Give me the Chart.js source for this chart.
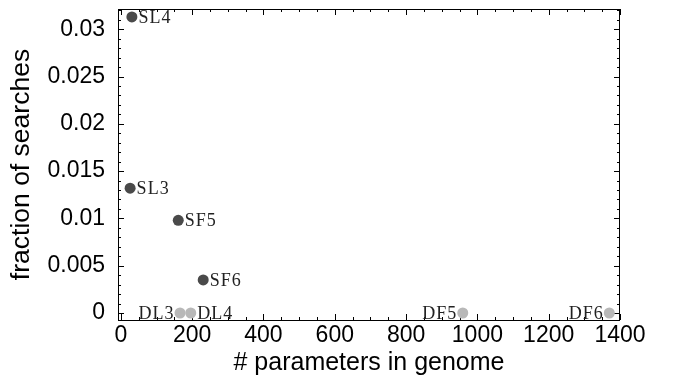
<!DOCTYPE html>
<html>
<head>
<meta charset="utf-8">
<script src="https://cdn.jsdelivr.net/npm/chart.js@4.4.1/dist/chart.umd.min.js"></script>
<style>
  html, body { margin: 0; padding: 0; background: #fff; }
  #wrap { width: 675px; height: 379px; position: relative; }
</style>
</head>
<body>
<div id="wrap"><canvas id="chart"></canvas></div>
<script>
// Single-population searches (dark) and double-population searches (light)
const singleNames = ['SL3', 'SL4', 'SF5', 'SF6'];
const singleParams = [26, 31, 161, 231];
const singleFraction = [0.0132, 0.0313, 0.0098, 0.0035];

const doubleNames = ['DL3', 'DL4', 'DF5', 'DF6'];
const doubleParams = [166, 196, 959, 1370];
const doubleFraction = [0, 0, 0, 0];

const xTicks = [0, 200, 400, 600, 800, 1000, 1200, 1400];
const xTickLabels = ['0', '200', '400', '600', '800', '1000', '1200', '1400'];
const yTicks = [0, 0.005, 0.01, 0.015, 0.02, 0.025, 0.03];
const yTickLabels = ['0', '0.005', '0.01', '0.015', '0.02', '0.025', '0.03'];

// labels that sit on the left of their point
const leftLabeled = ['DL3', 'DF5', 'DF6'];

const toPoints = (xs, ys) => xs.map((v, i) => ({ x: v, y: ys[i] }));

// Mathematica-style frame with inward major/minor ticks on all four sides
const frameTicks = {
  id: 'frameTicks',
  beforeDatasetsDraw(chart) {
    const { ctx, chartArea: a, scales: { x, y } } = chart;
    ctx.save();
    ctx.strokeStyle = '#000';
    ctx.lineWidth = 1;
    ctx.beginPath();
    for (let v = 0; v <= 1400; v += 50) {
      const px = Math.round(x.getPixelForValue(v)) + 0.5;
      const len = v % 200 === 0 ? 6 : 3;
      ctx.moveTo(px, a.bottom); ctx.lineTo(px, a.bottom - len);
      ctx.moveTo(px, a.top); ctx.lineTo(px, a.top + len);
    }
    for (let i = 0; i <= 32; i++) {
      const py = Math.round(y.getPixelForValue(i / 1000)) + 0.5;
      const len = i % 5 === 0 ? 6 : 3;
      ctx.moveTo(a.left, py); ctx.lineTo(a.left + len, py);
      ctx.moveTo(a.right, py); ctx.lineTo(a.right - len, py);
    }
    ctx.stroke();
    ctx.strokeRect(Math.round(a.left) + 0.5, Math.round(a.top) + 0.5,
      Math.round(a.right - a.left) - 1, Math.round(a.bottom - a.top));
    ctx.restore();
  }
};

// Point name labels in a typewriter-ish serif
const pointNames = {
  id: 'pointNames',
  afterDatasetsDraw(chart) {
    const { ctx } = chart;
    ctx.save();
    ctx.font = '18px "Liberation Serif", "Times New Roman", serif';
    ctx.letterSpacing = '1px';
    ctx.fillStyle = '#222';
    ctx.textBaseline = 'alphabetic';
    chart.data.datasets.forEach((ds, di) => {
      const meta = chart.getDatasetMeta(di);
      meta.data.forEach((pt, j) => {
        const name = ds.names[j];
        const r = ds.pointRadius;
        if (leftLabeled.includes(name)) {
          ctx.textAlign = 'right';
          ctx.fillText(name, pt.x - r, pt.y + 6);
        } else {
          ctx.textAlign = 'left';
          ctx.fillText(name, pt.x + r + 1, pt.y + 6);
        }
      });
    });
    ctx.restore();
  }
};

const sansFont = '"Liberation Sans", Arial, Helvetica, sans-serif';

new Chart(document.getElementById('chart'), {
  type: 'scatter',
  data: {
    datasets: [
      {
        names: singleNames,
        data: toPoints(singleParams, singleFraction),
        backgroundColor: '#4a4a4a',
        borderWidth: 0,
        pointRadius: 5.5,
        pointHoverRadius: 5.5,
        clip: false
      },
      {
        names: doubleNames,
        data: toPoints(doubleParams, doubleFraction),
        backgroundColor: '#b8b8b8',
        borderWidth: 0,
        pointRadius: 5.5,
        pointHoverRadius: 5.5,
        clip: false
      }
    ]
  },
  options: {
    responsive: true,
    maintainAspectRatio: false,
    animation: false,
    layout: { padding: { top: 9, right: 55, left: 0, bottom: 0 } },
    plugins: {
      legend: { display: false },
      tooltip: { enabled: false }
    },
    scales: {
      x: {
        type: 'linear',
        min: -8,
        max: 1400,
        grid: { display: false, drawTicks: false },
        border: { display: false },
        afterBuildTicks: (scale) => { scale.ticks = xTicks.map(v => ({ value: v })); },
        afterFit: (scale) => {
          scale.height = 59;
          scale.paddingLeft = 0;
          scale.paddingRight = 0;
        },
        ticks: {
          autoSkip: false,
          maxRotation: 0,
          padding: 2,
          color: '#000',
          font: { family: sansFont, size: 23 },
          callback: (value, index) => xTickLabels[index]
        },
        title: {
          display: true,
          text: '# parameters in genome',
          color: '#000',
          font: { family: sansFont, size: 25 },
          padding: { top: 0, bottom: 1 }
        }
      },
      y: {
        type: 'linear',
        min: -0.00074,
        max: 0.03214,
        grid: { display: false, drawTicks: false },
        border: { display: false },
        afterBuildTicks: (scale) => { scale.ticks = yTicks.map(v => ({ value: v })); },
        afterFit: (scale) => {
          scale.width = 118;
          scale.paddingTop = 0;
          scale.paddingBottom = 0;
        },
        ticks: {
          autoSkip: false,
          padding: 13,
          color: '#000',
          font: { family: sansFont, size: 23 },
          callback: (value, index) => yTickLabels[index]
        },
        title: {
          display: true,
          text: 'fraction of searches',
          color: '#000',
          font: { family: sansFont, size: 26.5 },
          padding: { top: 6, bottom: 0 }
        }
      }
    }
  },
  plugins: [frameTicks, pointNames]
});
</script>
</body>
</html>
